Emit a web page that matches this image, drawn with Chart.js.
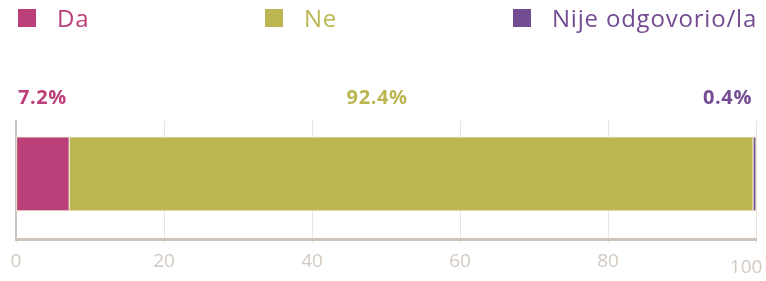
<!DOCTYPE html>
<html>
<head>
<meta charset="utf-8">
<script src="https://cdn.jsdelivr.net/npm/chart.js@4"></script>
<style>
  html, body { margin: 0; padding: 0; background: #fff; }
  #wrap { position: relative; width: 766px; height: 281px; }
  #legend { position: absolute; left: 0; top: 0; width: 766px; height: 40px; font-family: "Open Sans", sans-serif; }
  .item { position: absolute; top: 3px; font-size: 24px; line-height: 30px; letter-spacing: 0.8px; }
  .item span.box { position: absolute; left: 0; top: 6px; width: 18px; height: 18px; }
  .item span.txt { position: absolute; left: 39px; white-space: nowrap; }
</style>
</head>
<body>
<div id="wrap">
  <canvas id="chart" width="766" height="281"></canvas>
  <div id="legend"></div>
</div>
<script>
const categories = ['Odgovor'];
const seriesNames = ['Da', 'Ne', 'Nije odgovorio/la'];
const seriesValues = [[7.2], [92.4], [0.4]];
const seriesColors = ['#bb3f78', '#bbb652', '#734c93'];
const tickValues = [0, 20, 40, 60, 80, 100];

// legend in html, one column per series
const legendLeft = [18, 265, 513];
let html = '';
seriesNames.forEach(function(name, i) {
  html += `
    <div class="item" style="left:${legendLeft[i]}px;color:${seriesColors[i]}">
      <span class="box" style="background:${seriesColors[i]}"></span>
      <span class="txt">${name}</span>
    </div>`;
});
document.getElementById('legend').innerHTML = html;

// percent labels above the bar
const pctLabels = {
  id: 'pctLabels',
  afterDatasetsDraw(chart) {
    const ctx = chart.ctx;
    const x = chart.scales.x;
    const y = chart.chartArea.top - 23;
    ctx.save();
    ctx.font = 'bold 20px "Open Sans", sans-serif';
    ctx.letterSpacing = '0.6px';
    ctx.textBaseline = 'middle';
    seriesValues.forEach(function(vals, i) {
      const txt = vals[0].toFixed(1) + '%';
      ctx.fillStyle = seriesColors[i];
      if (i === 0) {
        ctx.textAlign = 'left';
        ctx.fillText(txt, x.getPixelForValue(0) + 2, y);
      } else if (i === seriesValues.length - 1) {
        ctx.textAlign = 'right';
        ctx.fillText(txt, x.getPixelForValue(100) - 4, y);
      } else {
        ctx.textAlign = 'center';
        ctx.fillText(txt, x.getPixelForValue(48.8), y);
      }
    });
    ctx.restore();
  }
};

const ctx = document.getElementById('chart').getContext('2d');
new Chart(ctx, {
  type: 'bar',
  data: {
    labels: categories,
    datasets: seriesNames.map(function(name, i) {
      return {
        label: name,
        // bar sits at y = 0 on a linear index axis
        data: seriesValues[i].map((v, j) => ({ x: v, y: j })),
        backgroundColor: seriesColors[i],
        borderColor: '#ece6cf',
        borderWidth: 1,
        borderSkipped: false,
        barThickness: 74
      };
    })
  },
  options: {
    indexAxis: 'y',
    responsive: false,
    animation: false,
    layout: { padding: { top: 121, left: 8, right: 10, bottom: 0 } },
    plugins: { legend: { display: false }, tooltip: { enabled: false } },
    scales: {
      x: {
        stacked: true,
        min: 0,
        max: 100,
        afterBuildTicks: function(axis) {
          axis.ticks = tickValues.map(v => ({ value: v }));
        },
        afterFit: function(axis) {
          axis.paddingLeft = 0;
          axis.paddingRight = 0;
        },
        grid: { color: '#ebe4da', lineWidth: 1, drawTicks: true, tickLength: 4 },
        border: { color: '#cdc4bb', width: 3 },
        ticks: {
          color: '#d2c9c0',
          font: function(c) {
            if (c.index === tickValues.length - 1) {
              return { family: '"Open Sans", sans-serif', size: 19, lineHeight: 0.63 };
            }
            return { family: '"Open Sans", sans-serif', size: 19 };
          },
          callback: function(value) {
            // last label is pushed inside and a bit lower, as in the original
            return value === 100 ? ['', '100    '] : value;
          },
          padding: 7
        }
      },
      y: {
        type: 'linear',
        stacked: true,
        min: -0.563,
        max: 0.437,
        grid: { display: false },
        border: { color: '#cdc4bb', width: 2 },
        ticks: { display: false }
      }
    }
  },
  plugins: [pctLabels]
});
</script>
</body>
</html>
